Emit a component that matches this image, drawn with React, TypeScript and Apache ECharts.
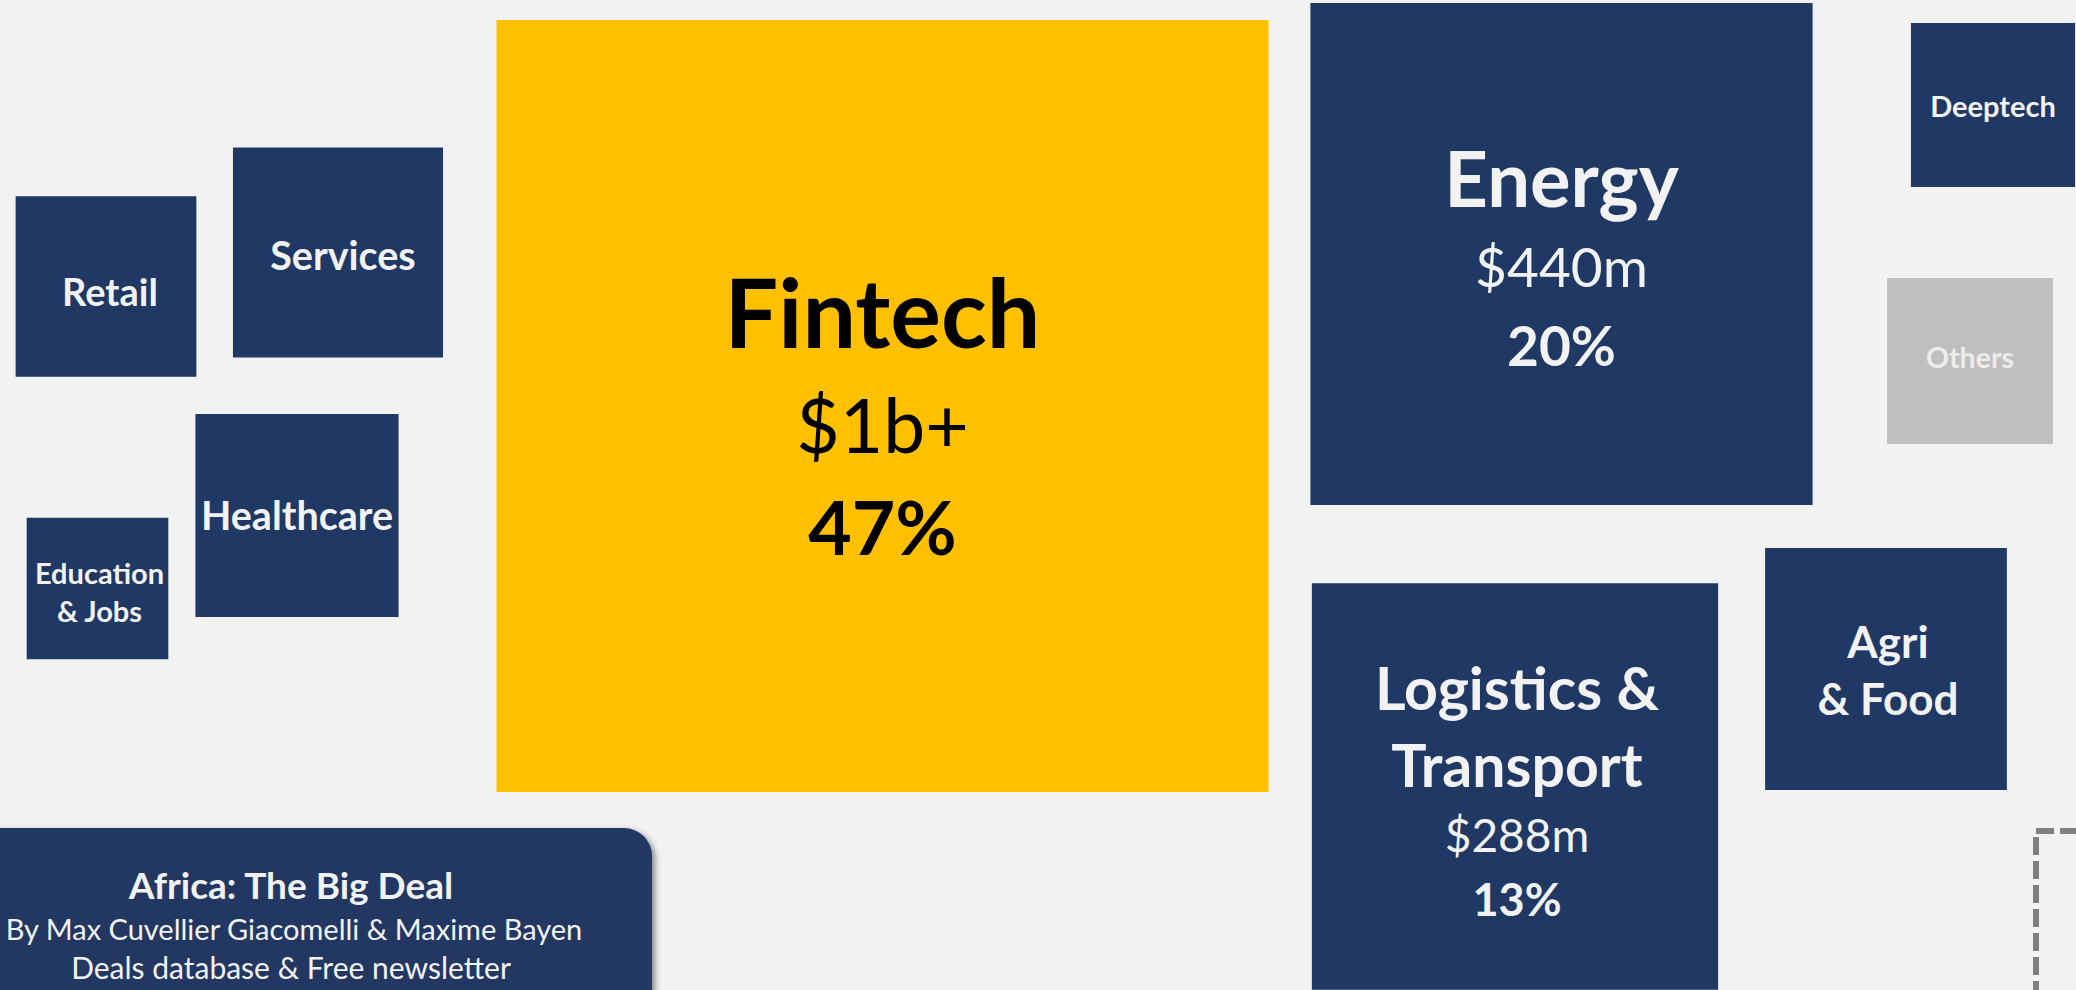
import React, { useEffect, useRef } from "react";
import * as echarts from "echarts";

// Sectors (funding raised, $m) with bubble-square positions on a 2076 x 990 canvas scale
const sectors = ["Fintech", "Energy", "Logistics & Transport", "Agri & Food", "Services", "Healthcare", "Retail", "Deeptech", "Others", "Education & Jobs"];
const amounts = [1040, 440, 288, 102, 77, 72, 57, 47, 48, 35];
const posX = [882.5, 1561.5, 1515, 1886, 338, 297, 106, 1993, 1970, 97.5];
const posY = [406, 254, 786.5, 669, 252.5, 515.5, 286.5, 105, 361, 588.5];
const amountLabels = ["$1b+", "$440m", "$288m", "", "", "", "", "", "", ""];
const shareLabels = ["47%", "20%", "13%", "", "", "", "", "", "", ""];
const nameLines = [["Fintech"], ["Energy"], ["Logistics &", "Transport"], ["Agri", "& Food"], ["Services"], ["Healthcare"], ["Retail"], ["Deeptech"], ["Others"], ["Education", "& Jobs"]];

const footerTitle = "Africa: The Big Deal";
const footerLine1 = "By Max Cuvellier Giacomelli & Maxime Bayen";
const footerLine2 = "Deals database & Free newsletter";

const NAVY = "#203864";
const YELLOW = "#FFC000";
const GREY = "#BFBFBF";
const BG = "#F2F2F2";
const LIGHT = "#F2F2F2";
const FONT = "Lato, 'Open Sans', sans-serif";

// pixel side per sqrt($m)
const K = 23.94;

export default function App() {
  const ref = useRef<HTMLDivElement>(null);

  useEffect(() => {
    if (!ref.current) return;
    const chart = echarts.init(ref.current, undefined, { renderer: "svg" });

    const styleFor = (i: number) => {
      const name = sectors[i];
      if (name === "Fintech") return { tier: "f", dx: 0, dy: 7 };
      if (name === "Energy") return { tier: "e", dx: 0, dy: 2.5 };
      if (name === "Logistics & Transport") return { tier: "l", dx: 2, dy: 3.5 };
      if (name === "Agri & Food") return { tier: "a", dx: 2, dy: 0 };
      if (name === "Education & Jobs") return { tier: "ed", dx: 2, dy: 2.5 };
      if (name === "Deeptech") return { tier: "d", dx: 0, dy: 0 };
      if (name === "Others") return { tier: "o", dx: 0, dy: -4 };
      if (name === "Retail") return { tier: "s", dx: 4, dy: 4.5 };
      if (name === "Services") return { tier: "s2", dx: 5, dy: 1.5 };
      return { tier: "s2", dx: 0, dy: -1 };
    };

    const colorFor = (i: number) => (sectors[i] === "Fintech" ? YELLOW : sectors[i] === "Others" ? GREY : NAVY);

    const data = sectors.map((name, i) => {
      const st = styleFor(i);
      const lines: string[] = [];
      const t = st.tier;
      if (t === "f" || t === "e") {
        lines.push(`{${t}n|${nameLines[i][0]}}`);
        lines.push(`{${t}a|${amountLabels[i]}}`);
        lines.push(`{${t}p|${shareLabels[i]}}`);
      } else if (t === "l") {
        lines.push(`{ln1|${nameLines[i][0]}}`);
        lines.push(`{ln2|${nameLines[i][1]}}`);
        lines.push(`{la|${amountLabels[i]}}`);
        lines.push(`{lp|${shareLabels[i]}}`);
      } else {
        nameLines[i].forEach((ln) => lines.push(`{${t}|${ln}}`));
      }
      return {
        name,
        value: [posX[i], posY[i], amounts[i]],
        itemStyle: { color: colorFor(i), opacity: 1 },
        label: { formatter: lines.join("\n"), offset: [st.dx, st.dy] },
      };
    });

    const rich: any = {
      fn: { fontFamily: FONT, fontWeight: "bold", fontSize: 95, color: "#000", lineHeight: 124 },
      fa: { fontFamily: FONT, fontWeight: "normal", fontSize: 75, color: "#000", lineHeight: 102 },
      fp: { fontFamily: FONT, fontWeight: "bold", fontSize: 75, color: "#000", lineHeight: 102 },
      en: { fontFamily: FONT, fontWeight: "bold", fontSize: 76, color: LIGHT, lineHeight: 98 },
      ea: { fontFamily: FONT, fontWeight: "normal", fontSize: 55, color: LIGHT, lineHeight: 79 },
      ep: { fontFamily: FONT, fontWeight: "bold", fontSize: 55, color: LIGHT, lineHeight: 79 },
      ln1: { fontFamily: FONT, fontWeight: "bold", fontSize: 59, color: LIGHT, lineHeight: 77 },
      ln2: { fontFamily: FONT, fontWeight: "bold", fontSize: 59, color: LIGHT, lineHeight: 77 },
      la: { fontFamily: FONT, fontWeight: "normal", fontSize: 46, color: LIGHT, lineHeight: 63 },
      lp: { fontFamily: FONT, fontWeight: "bold", fontSize: 45, color: LIGHT, lineHeight: 66 },
      a: { fontFamily: FONT, fontWeight: "bold", fontSize: 44, color: LIGHT, lineHeight: 57 },
      ed: { fontFamily: FONT, fontWeight: "bold", fontSize: 29, color: LIGHT, lineHeight: 38 },
      d: { fontFamily: FONT, fontWeight: "bold", fontSize: 29, color: LIGHT, lineHeight: 36 },
      o: { fontFamily: FONT, fontWeight: "bold", fontSize: 28.5, color: "#EDEDED", lineHeight: 36 },
      s: { fontFamily: FONT, fontWeight: "bold", fontSize: 38, color: LIGHT, lineHeight: 46 },
      s2: { fontFamily: FONT, fontWeight: "bold", fontSize: 39.5, color: LIGHT, lineHeight: 46 },
    };

    chart.setOption({
      animation: false,
      backgroundColor: BG,
      grid: { left: 0, right: 0, top: 0, bottom: 0 },
      xAxis: { type: "value", min: 0, max: 2076, show: false },
      yAxis: { type: "value", min: 0, max: 990, inverse: true, show: false },
      series: [
        {
          type: "scatter",
          symbol: "rect",
          symbolSize: (v: number[]) => K * Math.sqrt(v[2]),
          data,
          clip: false,
          itemStyle: { opacity: 1 },
          label: { show: true, position: "inside", align: "center", verticalAlign: "middle", rich },
          emphasis: { disabled: true },
        },
      ],
      graphic: [
        {
          type: "rect",
          shape: { x: -72, y: 828, width: 724, height: 220, r: 28 },
          style: { fill: NAVY, shadowBlur: 6, shadowOffsetX: 3, shadowOffsetY: 3, shadowColor: "rgba(0,0,0,0.45)" },
          z: 10,
        },
        {
          type: "text",
          x: 291,
          y: 884.5,
          style: { text: footerTitle, font: `bold 37px ${FONT}`, fill: LIGHT, align: "center", verticalAlign: "middle" },
          z: 11,
        },
        {
          type: "text",
          x: 294,
          y: 928,
          style: { text: footerLine1, font: `29px ${FONT}`, fill: LIGHT, align: "center", verticalAlign: "middle" },
          z: 11,
        },
        {
          type: "text",
          x: 291,
          y: 967,
          style: { text: footerLine2, font: `30px ${FONT}`, fill: LIGHT, align: "center", verticalAlign: "middle" },
          z: 11,
        },
        {
          type: "rect",
          shape: { x: 2036, y: 831, width: 300, height: 300 },
          style: { fill: "none", stroke: "#808080", lineWidth: 6, lineDash: [18, 6] },
          z: 10,
        },
      ],
    });

    return () => chart.dispose();
  }, []);

  return (
    <div
      ref={ref}
      style={{ position: "fixed", left: 0, top: 0, width: 2076, height: 990, background: BG }}
    />
  );
}
